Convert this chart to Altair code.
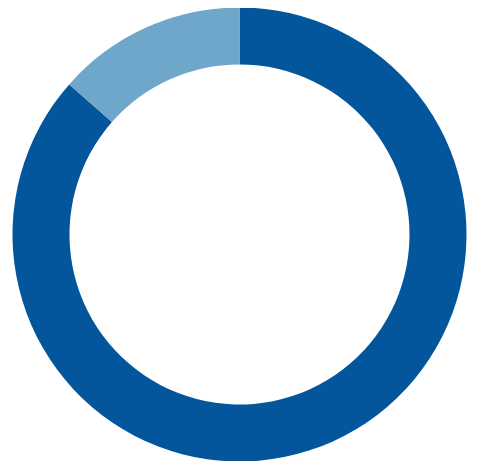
import altair as alt
import pandas as pd

categories = ["A", "B"]
values = [86.5, 13.5]
colors = ["#03569b", "#6fa7cb"]
orders = [0, 1]

df = pd.DataFrame({"category": categories, "value": values, "order": orders})

chart = alt.Chart(df).mark_arc(outerRadius=227, innerRadius=170, stroke=None).encode(
    theta=alt.Theta("value:Q", stack=True),
    color=alt.Color("category:N", scale=alt.Scale(domain=categories, range=colors), legend=None),
    order=alt.Order("order:Q"),
).properties(
    width=463, height=453, padding=0, autosize=alt.AutoSizeParams(type="none"),
    background="white"
).configure_view(stroke=None)

chart.save("out.html", embed_options={"renderer": "svg", "actions": False})
